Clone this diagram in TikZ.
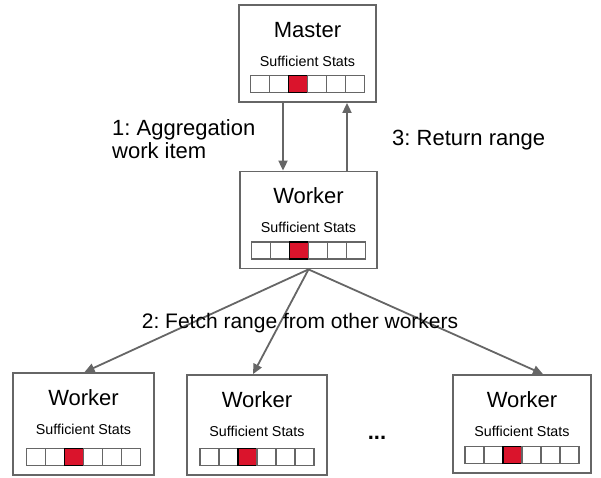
\documentclass[tikz,border=0pt]{standalone}
\usepackage{fontspec}
\setmainfont{Liberation Sans}
\usepackage{tikz}
\usetikzlibrary{arrows.meta,positioning,calc}
\definecolor{edgegray}{RGB}{102,102,102}
\definecolor{statred}{RGB}{218,20,44}
\frenchspacing

\begin{document}
\begin{tikzpicture}[x=1pt,y=-1pt,
  box/.style={draw=edgegray,line width=1.8pt,fill=white,minimum width=137pt,
              minimum height=97pt,inner sep=0pt},
  title/.style={anchor=base,font=\fontsize{22}{26}\selectfont},
  sub/.style={anchor=base,font=\fontsize{14.3}{16}\selectfont},
  cell/.style={draw=edgegray,line width=1.3pt,fill=white,minimum width=19pt,
               minimum height=17pt,inner sep=0pt},
  hotcell/.style={cell,draw=black,line width=1.8pt,fill=statred},
  arr/.style={-{Triangle[length=10pt,width=9pt]},draw=edgegray,fill=edgegray,
              line width=1.8pt},
  lbl/.style={font=\fontsize{22}{23}\selectfont,inner sep=0pt}
]
\useasboundingbox (0,0) rectangle (601,477);
% Row 1: master
\node[box] (master) at (307.5,53.5) {};
% Row 2: worker that gets the work item
\node[box] (mid)    at (308.5,220)  {};
% Row 3: other workers
\node[box,minimum width=141pt,minimum height=102pt] (w1) at (83.5,424) {};
\node[box,minimum width=140pt,minimum height=100pt] (w2) at (257,425)  {};
\node[box,minimum width=138pt,minimum height=98pt]  (w3) at (522,424)  {};

% titles, subtitles and stats rows
\foreach \b/\t in {master/Master,mid/Worker,w1/Worker,w2/Worker,w3/Worker} {
  \node[title] (\b-title) at ($(\b.north)+(0,33)$) {\t};
  \node[sub]   (\b-sub)   at ($(\b.north)+(0,62)$) {Sufficient Stats};
  \foreach \i/\s in {1/cell,2/cell,3/hotcell,4/cell,5/cell,6/cell}
    \node[\s] (\b-c\i) at ($(\b.south)+(\i*19-66.5,-19)$) {};
}
\node[font=\bfseries\fontsize{22}{26}\selectfont,anchor=base] (more) at (377,439) {...};

% Master <-> worker
\draw[arr] ([xshift=-24.5pt]master.south) -- ([xshift=-25.5pt]mid.north);
\draw[arr] ([xshift=38.5pt]mid.north) -- ([xshift=39.5pt]master.south);
\node[lbl,align=left,anchor=west] (agg) at (112,139) {1: Aggregation\\work item};
\node[lbl,anchor=west] (ret) at (392,140) {3: Return range};

% Fan out to the other workers
\draw[arr] (mid.south) -- ([xshift=1pt]w1.north);
\draw[arr] (mid.south) -- ([xshift=-4pt]w2.north);
\draw[arr] (mid.south) -- ([xshift=21pt]w3.north);
\node[lbl,anchor=base,font=\fontsize{21}{23}\selectfont] (fetch) at (300,328)
  {2: Fetch range from other workers};
\end{tikzpicture}
\end{document}
